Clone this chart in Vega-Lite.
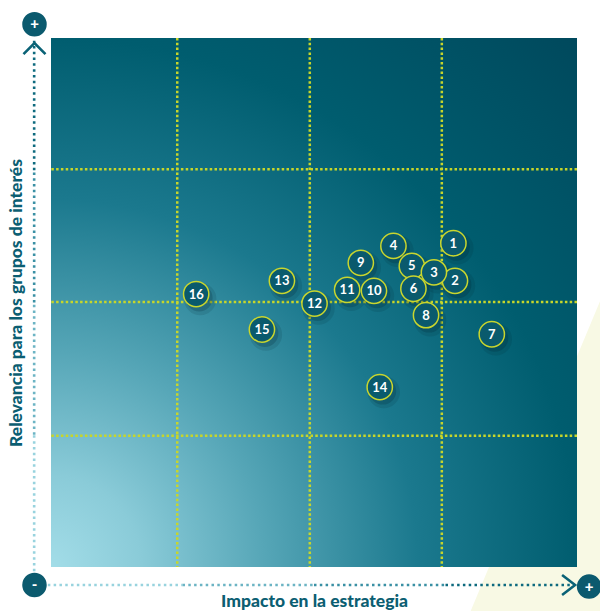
{
  "$schema": "https://vega.github.io/schema/vega-lite/v6.json",
  "width": 526,
  "height": 529,
  "autosize": {"type": "none"},
  "padding": {"left": 51, "top": 38, "right": 23, "bottom": 44},
  "background": "#ffffff",
  "config": {
    "view": {"stroke": null},
    "font": "Lato",
    "axis": {"domain": false, "ticks": false, "labels": false, "grid": false, "titleFont": "Lato", "titleFontSize": 17.5, "titleFontWeight": 900, "titleColor": "#0b5e72"},
    "axisX": {"titlePadding": 25},
    "axisY": {"titlePadding": 26}
  },
  "datasets": {
    "items": [
      {"id": "5", "x": 68.6, "y": 56.9},
      {"id": "2", "x": 76.8, "y": 54.1},
      {"id": "1", "x": 76.5, "y": 61.2},
      {"id": "3", "x": 72.8, "y": 55.7},
      {"id": "4", "x": 65.1, "y": 60.7},
      {"id": "6", "x": 68.9, "y": 52.6},
      {"id": "7", "x": 83.8, "y": 44.0},
      {"id": "8", "x": 71.3, "y": 47.6},
      {"id": "9", "x": 58.9, "y": 57.5},
      {"id": "10", "x": 61.4, "y": 52.2},
      {"id": "11", "x": 56.3, "y": 52.4},
      {"id": "12", "x": 50.1, "y": 49.8},
      {"id": "13", "x": 43.9, "y": 54.1},
      {"id": "14", "x": 62.5, "y": 34.0},
      {"id": "15", "x": 40.1, "y": 44.9},
      {"id": "16", "x": 27.6, "y": 51.6}
    ],
    "vgrid": [{"g": 24.0}, {"g": 49.2}, {"g": 74.3}],
    "hgrid": [{"g": 24.8}, {"g": 50.1}, {"g": 75.2}],
    "xline": [
      {"a": -0.6, "b": 25, "seg": 1},
      {"a": 25, "b": 50, "seg": 2},
      {"a": 50, "b": 75, "seg": 3},
      {"a": 75, "b": 99.6, "seg": 4}
    ],
    "yline": [
      {"a": -0.8, "b": 25, "seg": 1},
      {"a": 25, "b": 50, "seg": 2},
      {"a": 50, "b": 75, "seg": 3},
      {"a": 75, "b": 99.5, "seg": 4}
    ],
    "ends": [
      {"u": -3.14, "v": 102.6, "sym": "+"},
      {"u": -3.14, "v": -3.4, "sym": "-"},
      {"u": 102.3, "v": -3.7, "sym": "+"}
    ],
    "corner": [
      {"u": 79.5, "v": -9},
      {"u": 104.4, "v": 50.3}
    ]
  },
  "layer": [
    {
      "data": {"name": "corner"},
      "mark": {"type": "area", "color": "#f8f9e4", "orient": "vertical"},
      "encoding": {
        "x": {"field": "u", "type": "quantitative", "scale": {"domain": [0, 100], "nice": false, "zero": false}, "title": "Impacto en la estrategia"},
        "y": {"field": "v", "type": "quantitative", "scale": {"domain": [0, 100], "nice": false, "zero": false}, "title": "Relevancia para los grupos de interés"},
        "y2": {"datum": -9}
      }
    },
    {
      "data": {"values": [{}]},
      "mark": {
        "type": "rect",
        "fill": {
          "gradient": "radial",
          "x1": 0, "y1": 1, "r1": 0,
          "x2": 0, "y2": 1, "r2": 1.45,
          "stops": [
            {"offset": 0, "color": "#a3dde8"},
            {"offset": 0.12, "color": "#8acbd8"},
            {"offset": 0.28, "color": "#56a6b7"},
            {"offset": 0.48, "color": "#1b798e"},
            {"offset": 0.69, "color": "#005d6f"},
            {"offset": 1, "color": "#00475b"}
          ]
        }
      },
      "encoding": {
        "x": {"datum": 0, "type": "quantitative", "scale": {"domain": [0, 100], "nice": false, "zero": false}, "title": "Impacto en la estrategia"},
        "x2": {"datum": 100},
        "y": {"datum": 0, "type": "quantitative", "scale": {"domain": [0, 100], "nice": false, "zero": false}, "title": "Relevancia para los grupos de interés"},
        "y2": {"datum": 100}
      }
    },
    {
      "data": {"name": "vgrid"},
      "mark": {"type": "rule", "color": "#c8d62a", "strokeWidth": 2.5, "strokeDash": [2.5, 2.3]},
      "encoding": {"x": {"field": "g", "type": "quantitative", "title": "Impacto en la estrategia"}}
    },
    {
      "data": {"name": "hgrid"},
      "mark": {"type": "rule", "color": "#c8d62a", "strokeWidth": 2.5, "strokeDash": [2.5, 2.3]},
      "encoding": {"y": {"field": "g", "type": "quantitative", "title": "Relevancia para los grupos de interés"}}
    },
    {
      "data": {"name": "xline"},
      "mark": {"type": "rule", "strokeWidth": 2.6, "strokeDash": [2.5, 3.3]},
      "encoding": {
        "x": {"field": "a", "type": "quantitative", "title": "Impacto en la estrategia"},
        "x2": {"field": "b"},
        "y": {"datum": -3.4, "type": "quantitative", "title": "Relevancia para los grupos de interés"},
        "color": {"field": "seg", "type": "ordinal", "legend": null, "scale": {"domain": [1, 2, 3, 4], "range": ["#98d3de", "#6cb4c4", "#3a90a4", "#0d6a7e"]}}
      }
    },
    {
      "data": {"name": "yline"},
      "mark": {"type": "rule", "strokeWidth": 2.6, "strokeDash": [2.5, 3.3]},
      "encoding": {
        "y": {"field": "a", "type": "quantitative", "title": "Relevancia para los grupos de interés"},
        "y2": {"field": "b"},
        "x": {"datum": -3.2, "type": "quantitative", "title": "Impacto en la estrategia"},
        "color": {"field": "seg", "type": "ordinal", "legend": null}
      }
    },
    {
      "data": {"values": [{}]},
      "mark": {"type": "point", "shape": "M-1,0.5L0,-0.5L1,0.5", "filled": false, "stroke": "#0a6276", "strokeWidth": 2.6, "size": 484, "opacity": 1},
      "encoding": {
        "x": {"datum": -3.14, "type": "quantitative", "title": "Impacto en la estrategia"},
        "y": {"datum": 98.0, "type": "quantitative", "title": "Relevancia para los grupos de interés"}
      }
    },
    {
      "data": {"values": [{}]},
      "mark": {"type": "point", "shape": "M-0.65,-1L0.65,0L-0.65,1", "filled": false, "stroke": "#0a6276", "strokeWidth": 2.6, "size": 400, "opacity": 1},
      "encoding": {
        "x": {"datum": 98.4, "type": "quantitative", "title": "Impacto en la estrategia"},
        "y": {"datum": -3.4, "type": "quantitative", "title": "Relevancia para los grupos de interés"}
      }
    },
    {
      "data": {"name": "ends"},
      "mark": {"type": "point", "filled": true, "color": "#0b5a6e", "size": 600, "opacity": 1},
      "encoding": {
        "x": {"field": "u", "type": "quantitative", "title": "Impacto en la estrategia"},
        "y": {"field": "v", "type": "quantitative", "title": "Relevancia para los grupos de interés"}
      }
    },
    {
      "data": {"name": "ends"},
      "mark": {"type": "text", "color": "#ffffff", "font": "Lato", "fontSize": 15, "fontWeight": 900, "align": "center", "baseline": "middle", "dy": 0},
      "encoding": {
        "x": {"field": "u", "type": "quantitative", "title": "Impacto en la estrategia"},
        "y": {"field": "v", "type": "quantitative", "title": "Relevancia para los grupos de interés"},
        "text": {"field": "sym"}
      }
    },
    {
      "data": {"name": "items"},
      "mark": {"type": "point", "filled": true, "color": "#00202c", "size": 1050, "opacity": 0.12, "xOffset": 4, "yOffset": 5},
      "encoding": {
        "x": {"field": "x", "type": "quantitative", "title": "Impacto en la estrategia"},
        "y": {"field": "y", "type": "quantitative", "title": "Relevancia para los grupos de interés"}
      }
    },
    {
      "data": {"name": "items"},
      "mark": {"type": "point", "filled": true, "color": "#00202c", "size": 720, "opacity": 0.2, "xOffset": 3, "yOffset": 4},
      "encoding": {
        "x": {"field": "x", "type": "quantitative", "title": "Impacto en la estrategia"},
        "y": {"field": "y", "type": "quantitative", "title": "Relevancia para los grupos de interés"}
      }
    },
    {
      "data": {"name": "items"},
      "mark": {"type": "point", "filled": true, "fill": "#0a5a6d", "stroke": "#c9d62e", "strokeWidth": 1.5, "size": 640, "opacity": 1},
      "encoding": {
        "x": {"field": "x", "type": "quantitative", "title": "Impacto en la estrategia"},
        "y": {"field": "y", "type": "quantitative", "title": "Relevancia para los grupos de interés"}
      }
    },
    {
      "data": {"name": "items"},
      "mark": {"type": "text", "color": "#ffffff", "font": "Lato", "fontSize": 13, "fontWeight": "bold", "align": "center", "baseline": "middle", "dy": 0.5},
      "encoding": {
        "x": {"field": "x", "type": "quantitative", "title": "Impacto en la estrategia"},
        "y": {"field": "y", "type": "quantitative", "title": "Relevancia para los grupos de interés"},
        "text": {"field": "id"}
      }
    }
  ]
}
